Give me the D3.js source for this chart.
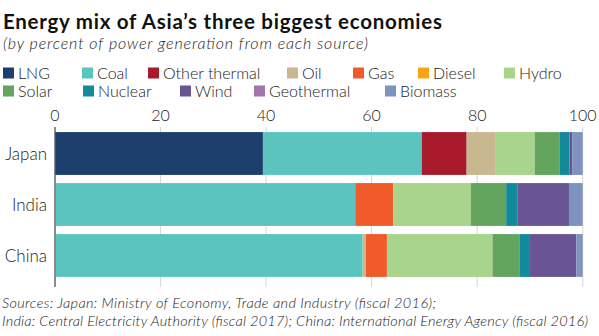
<!DOCTYPE html>
<html><head><meta charset="utf-8">
<script src="https://cdn.jsdelivr.net/npm/d3@7"></script>
<style>
body{margin:0;background:#fff;}
svg{display:block;font-family:Lato,"Noto Sans",sans-serif;}
</style></head>
<body><svg id="c" width="599" height="336"></svg>
<script>
const countries = ["Japan","India","China"];
const sources = ["LNG","Coal","Other thermal","Oil","Gas","Diesel","Hydro","Solar","Nuclear","Wind","Geothermal","Biomass"];
const colors = ["#1c3f6e","#5cc4bf","#a81a2c","#c9b78f","#f15a29","#f9a31b","#a9d48c","#63a45f","#118a9b","#6a5594","#a275ad","#7f93bf"];
const japan = [39.4,30.1,8.5,5.4,0,0,7.5,4.7,1.9,0.5,0,2.0];
const india = [0,56.9,0,0,7.2,0,14.7,6.7,2.1,9.8,0,2.6];
const china = [0,58.3,0,0.6,4.0,0,20.0,5.1,2.0,8.8,0,1.2];
const ticks = [0,20,40,60,80,100];

const svg = d3.select("#c");
const x = d3.scaleLinear().domain([0,100]).range([55,582.7]);
const y = d3.scaleBand().domain(countries).range([128,281]).paddingInner(0.16).paddingOuter(0.08);

function fit(sel, w){ sel.attr("textLength", w).attr("lengthAdjust","spacing"); return sel; }

fit(svg.append("text").attr("x",3).attr("y",29).attr("font-size",20.5).attr("font-weight",700).attr("fill","#111")
  .text("Energy mix of Asia’s three biggest economies"), 439);
fit(svg.append("text").attr("x",3).attr("y",49).attr("font-size",16).attr("font-style","italic").attr("font-weight",300).attr("fill","#222")
  .text("(by percent of power generation from each source)"), 365);

// legend
const legPos = [[3,0],[82,0],[148,0],[287,0],[353,0],[418,0],[504,0],[3,1],[83,1],[180,1],[254,1],[385,1]];
const leg = svg.append("g");
sources.forEach((s,i)=>{
  const [lx,row] = legPos[i];
  const ly = 73 + row*18;
  leg.append("rect").attr("x",lx).attr("y",ly-5.5).attr("width",11).attr("height",11).attr("fill",colors[i]);
  leg.append("text").attr("x",lx+15).attr("y",ly+6).attr("font-size",16).attr("font-weight",300).attr("fill","#222").text(s);
});

// grid
svg.append("g").selectAll("line").data(ticks).join("line")
  .attr("x1",d=>x(d)).attr("x2",d=>x(d)).attr("y1",127).attr("y2",287)
  .attr("stroke",d=>d===0?"#666":"#d6d6d6").attr("stroke-width",1);
svg.append("g").selectAll("text").data(ticks).join("text")
  .attr("x",d=>x(d)).attr("y",121).attr("text-anchor","middle").attr("font-size",16).attr("font-weight",300).attr("fill","#222")
  .text(d=>d);

// bars
const data = {Japan:japan, India:india, China:china};
countries.forEach(c=>{
  let acc=0;
  const segs = data[c].map((v,i)=>{const s={x0:acc,x1:acc+v,i}; acc+=v; return s;}).filter(s=>s.x1>s.x0);
  svg.append("g").selectAll("rect").data(segs).join("rect")
    .attr("x",d=>x(d.x0)).attr("width",d=>x(d.x1)-x(d.x0))
    .attr("y",y(c)).attr("height",y.bandwidth()).attr("fill",d=>colors[d.i]);
});
svg.append("line").attr("x1",x(0)).attr("x2",x(0)).attr("y1",127).attr("y2",287).attr("stroke","#666");

svg.append("g").selectAll("text").data(countries).join("text")
  .attr("x",47).attr("y",d=>y(d)+y.bandwidth()/2+6).attr("text-anchor","end").attr("font-size",17).attr("font-weight",300).attr("fill","#222")
  .text(d=>d);

fit(svg.append("text").attr("x",2).attr("y",308).attr("font-size",14.5).attr("font-style","italic").attr("font-weight",300).attr("fill","#222")
  .text("Sources: Japan: Ministry of Economy, Trade and Industry (fiscal 2016);"), 434);
fit(svg.append("text").attr("x",2).attr("y",326).attr("font-size",14.5).attr("font-style","italic").attr("font-weight",300).attr("fill","#222")
  .text("India: Central Electricity Authority (fiscal 2017); China: International Energy Agency (fiscal 2016)"), 586);
</script></body></html>
